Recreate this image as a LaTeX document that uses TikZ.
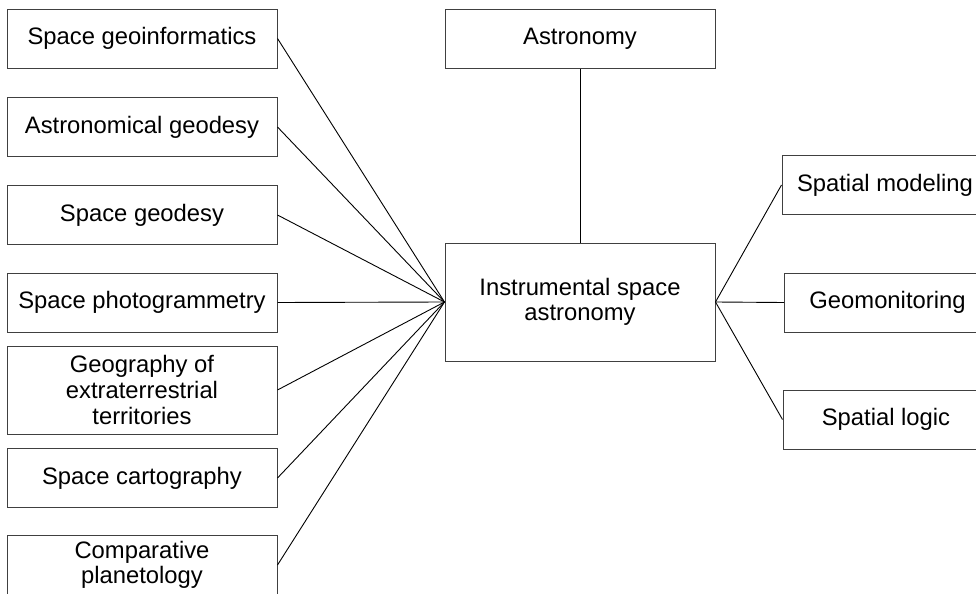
\documentclass[tikz,border=0pt]{standalone}
\usepackage{fontspec}
\setmainfont{Liberation Sans}
\begin{document}
\begin{tikzpicture}[x=0.5pt, y=-0.5pt,
    topic/.style={draw=black!75, line width=0.5pt, align=center, inner sep=0pt,
      minimum width=135pt, minimum height=29.5pt,
      font=\fontsize{11.9}{12.8}\selectfont},
    method/.style={topic, minimum width=103pt},
    link/.style={line width=0.45pt, black}]
    \useasboundingbox (0,0) rectangle (976,594);

    % Centre and the field above it
    \node[topic, minimum height=59pt] (isa) at (580,302) {Instrumental space\\astronomy};
    \node[topic] (astro) at (580,38.5) {Astronomy};
    \draw[link] (astro.south) -- (isa.north);

    % Related disciplines on the left
    \node[topic] (geoinf) at (142,38.5) {Space geoinformatics};
    \node[topic] (astgeod) at (142,127) {Astronomical geodesy};
    \node[topic] (spgeod) at (142,215) {Space geodesy};
    \node[topic] (photo) at (142,302.5) {Space photogrammetry};
    \node[topic, minimum height=44pt] (geog) at (142,390) {Geography of\\extraterrestrial\\territories};
    \node[topic] (carto) at (142,478) {Space cartography};
    \node[topic] (plan) at (142,565) {Comparative\\planetology};
    \foreach \nd in {geoinf,astgeod,spgeod,photo,geog,carto,plan}
    \draw[link] (\nd.east) -- (isa.west);

    % Methods on the right (cut by the page edge)
    \node[method] (model) at (885,185) {Spatial modeling};
    \node[method] (monit) at (887.5,302.5) {Geomonitoring};
    \node[method] (logic) at (886,419.5) {Spatial logic};
    \foreach \nd in {model,monit,logic}
    \draw[link] (isa.east) -- (\nd.west);
  \end{tikzpicture}
\end{document}
